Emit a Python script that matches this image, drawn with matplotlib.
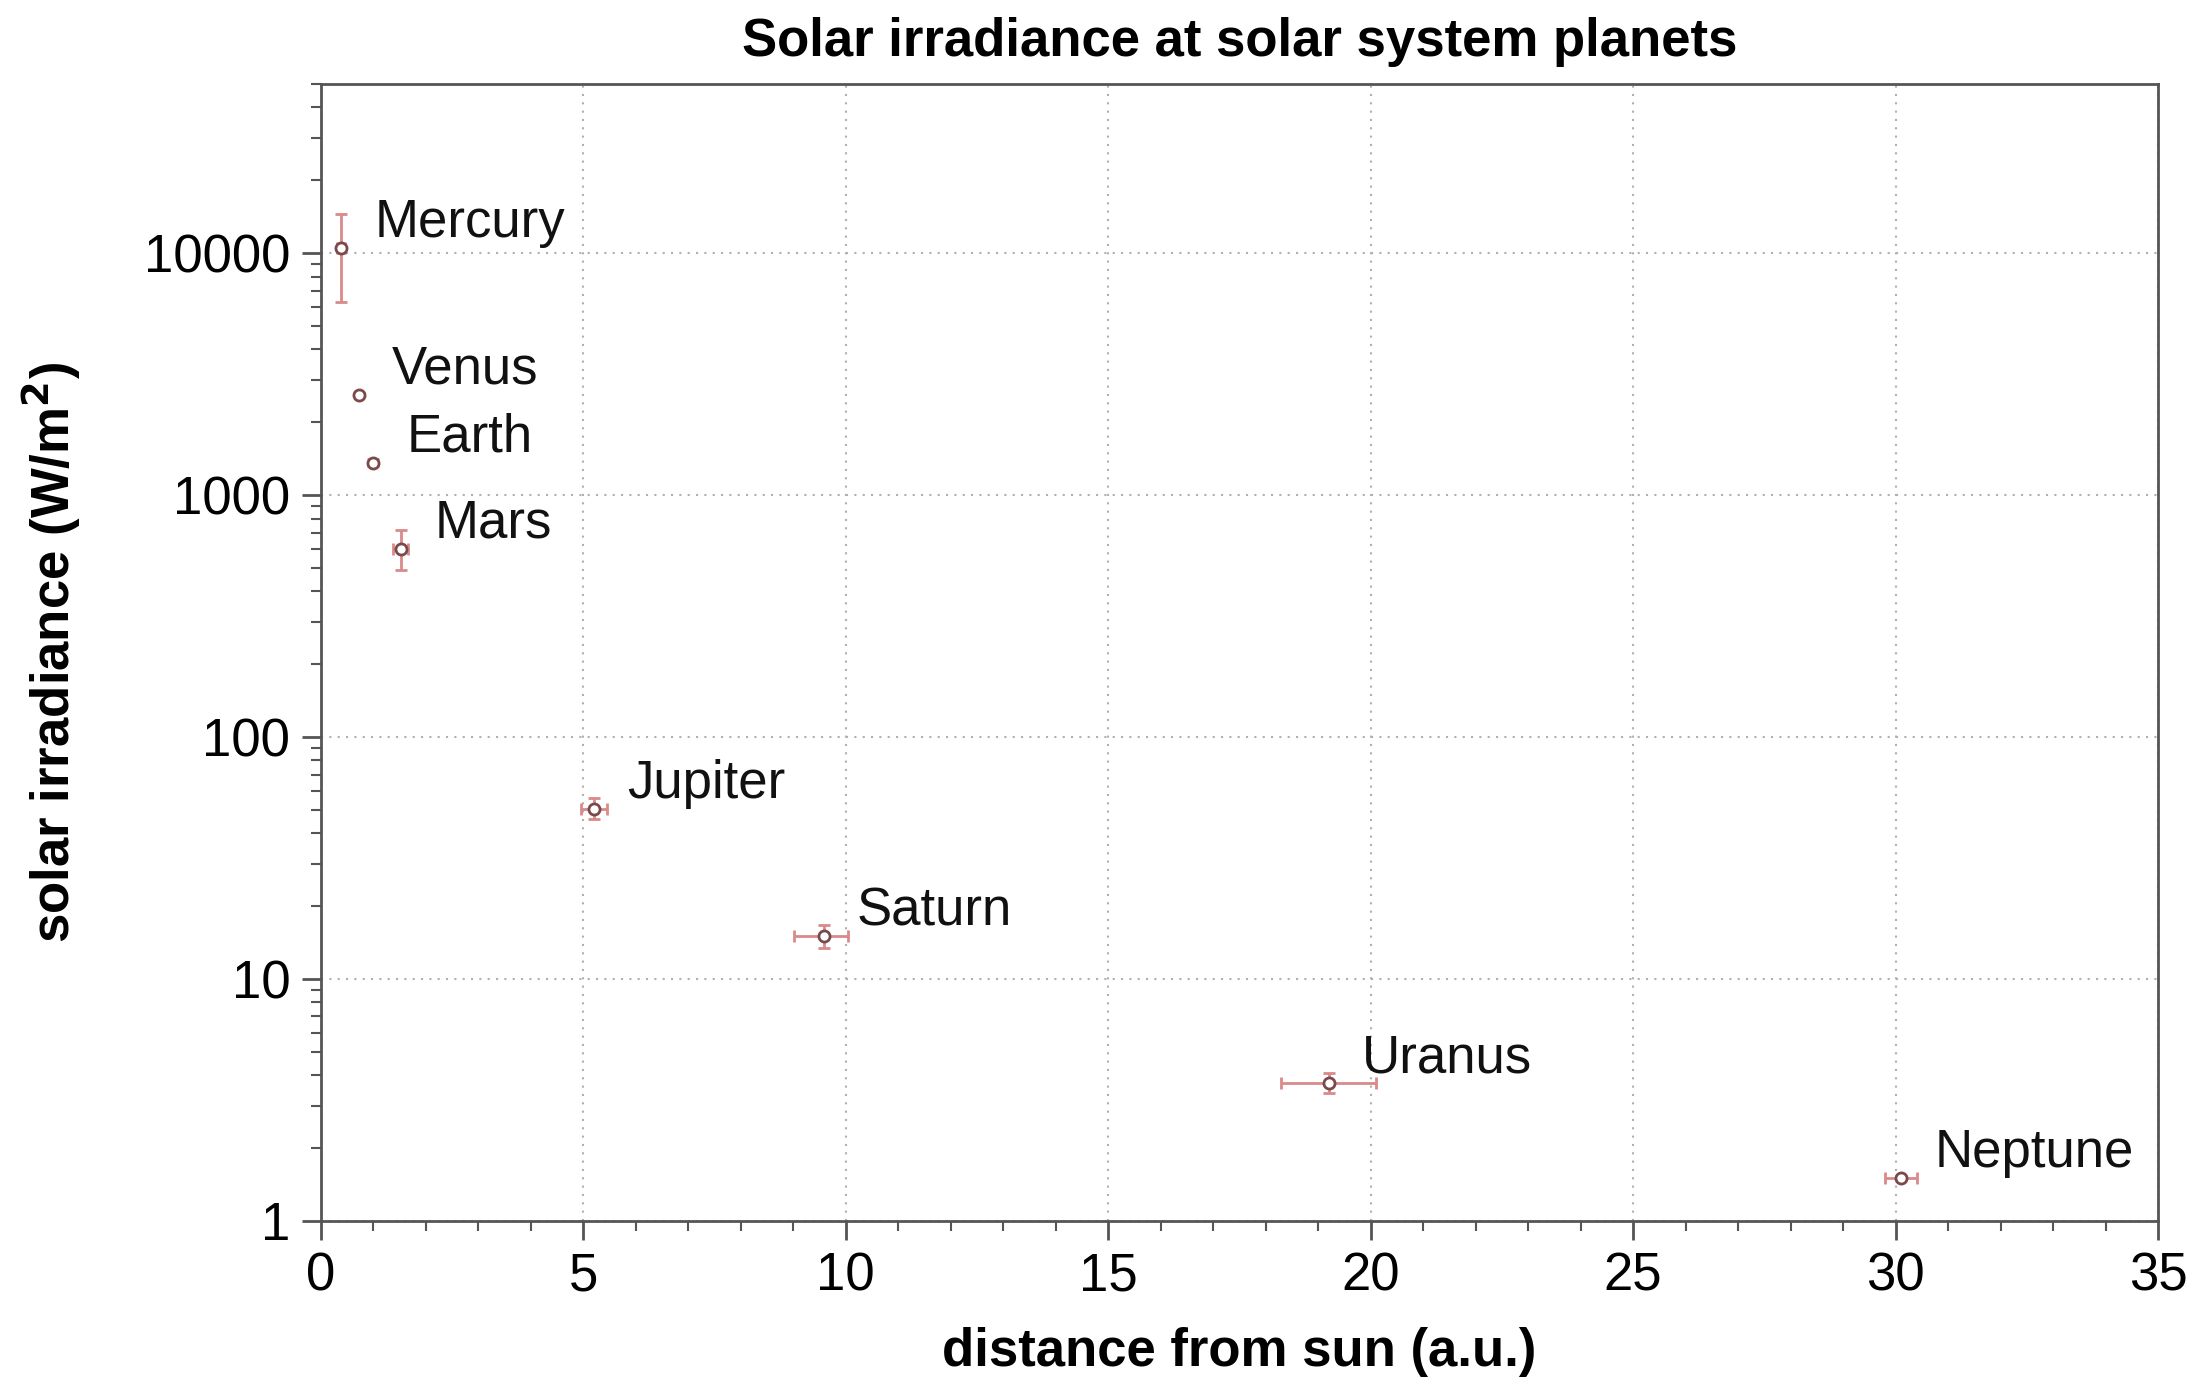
import matplotlib
matplotlib.use("Agg")
import matplotlib.pyplot as plt
from matplotlib.ticker import MultipleLocator, LogLocator, FixedLocator, NullFormatter
import numpy as np

planets = ["Mercury", "Venus", "Earth", "Mars", "Jupiter", "Saturn", "Uranus", "Neptune"]
dist_mean = [0.387, 0.723, 1.000, 1.524, 5.203, 9.58, 19.2, 30.1]
dist_peri = [0.307, 0.718, 0.983, 1.381, 4.95, 9.02, 18.3, 29.8]
dist_aph = [0.467, 0.728, 1.017, 1.666, 5.46, 10.05, 20.1, 30.4]
irr_mean = [10500, 2601, 1361, 600, 50.5, 15.04, 3.7, 1.51]
irr_max = [14446, 2647, 1413, 715, 55.8, 16.7, 4.07, 1.54]
irr_min = [6272, 2576, 1321, 492, 45.9, 13.4, 3.37, 1.47]

plt.rcParams['font.family'] = ['Liberation Sans', 'DejaVu Sans']

fig = plt.figure(figsize=(22.07, 13.84), dpi=100)
ax = fig.add_axes([0.1454, 0.1178, 0.8324, 0.8215])

x = np.array(dist_mean)
y = np.array(irr_mean)
xerr = [x - np.array(dist_peri), np.array(dist_aph) - x]
yerr = [y - np.array(irr_min), np.array(irr_max) - y]

ax.errorbar(x, y, xerr=xerr, yerr=yerr, fmt='o', ms=8, mfc='white', mec='#7a4a4a',
            mew=2, ecolor='#d98a8a', elinewidth=2, capsize=4, capthick=2, zorder=3)

for name, xi, yi in zip(planets, dist_mean, irr_mean):
    ax.annotate(name, (xi, yi), xytext=(24, 18), textcoords='offset points',
                fontsize=38, color='#111111', ha='left', va='center')

ax.set_yscale('log')
ax.set_xlim(0, 35)
ax.set_ylim(1, 50000)
ax.xaxis.set_major_locator(MultipleLocator(5))
ax.xaxis.set_minor_locator(MultipleLocator(1))
ax.yaxis.set_major_locator(FixedLocator([1, 10, 100, 1000, 10000]))
ax.set_yticklabels(["1", "10", "100", "1000", "10000"])
ax.yaxis.set_minor_locator(LogLocator(base=10, subs=np.arange(2, 10)))
ax.yaxis.set_minor_formatter(NullFormatter())

ax.grid(True, which='major', linestyle=(0, (1, 3)), color='#b0b0b0', linewidth=1.5)
ax.tick_params(axis='both', which='major', direction='out', length=14, width=2,
               color='#555555', labelsize=38, pad=8)
ax.tick_params(axis='both', which='minor', direction='out', length=7, width=1.5,
               color='#555555')
for s in ax.spines.values():
    s.set_color('#555555')
    s.set_linewidth(2)

ax.set_xlabel("distance from sun (a.u.)", fontsize=38, fontweight='bold', labelpad=18)
ax.set_ylabel("solar irradiance (W/m$^\\mathbf{2}$)", fontsize=38, fontweight='bold', labelpad=44)
ax.set_title("Solar irradiance at solar system planets", fontsize=38, fontweight='bold', pad=20)

fig.savefig("out.png", dpi=100)
